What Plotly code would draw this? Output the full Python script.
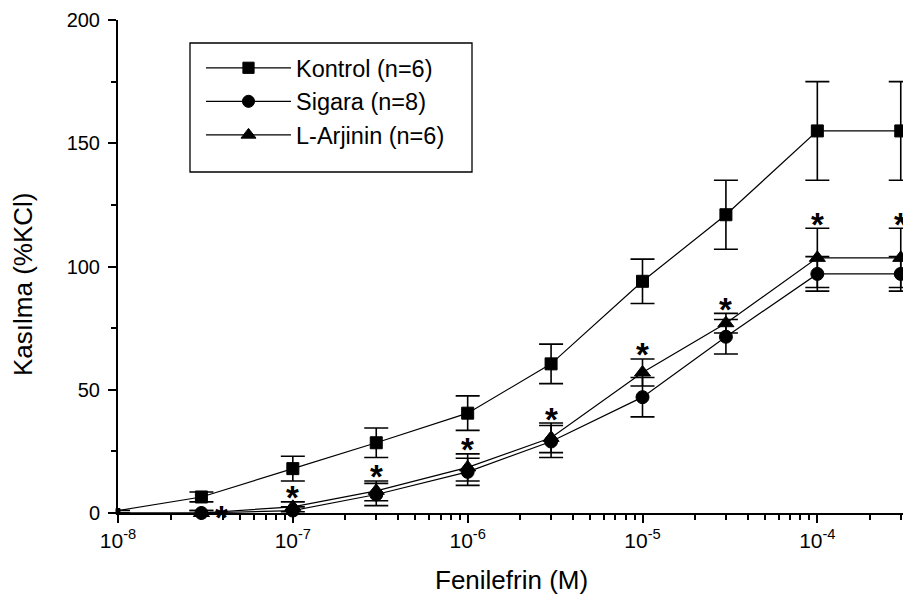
import math
import plotly.graph_objects as go

# ---- data ----
conc = [1e-8, 3e-8, 1e-7, 3e-7, 1e-6, 3e-6, 1e-5, 3e-5, 1e-4, 3e-4]
kontrol = [1, 6.5, 18, 28.5, 40.5, 60.5, 94, 121, 155, 155]
kontrol_err = [0, 2, 5, 6, 7, 8, 9, 14, 20, 20]
sigara = [0, 0, 1, 7.5, 16.7, 29, 47, 71.5, 97, 97]
sigara_err = [0, 1, 1.5, 4.5, 5.5, 6.5, 8, 7, 7, 7]
larjinin = [0, 0, 2.5, 9, 18.5, 30.5, 57, 77, 103.5, 103.5]
larjinin_err = [0, 1, 2, 4, 5.5, 6, 5.5, 4, 12, 12]
signif = [False, True, True, True, True, True, True, True, True, True]

series_names = ["Kontrol (n=6)", "Sigara (n=8)", "L-Arjinin (n=6)"]
y_ticks = [0, 50, 100, 150, 200]
x_tick_vals = [1e-8, 1e-7, 1e-6, 1e-5, 1e-4]
x_tick_text = ["10<sup>-8</sup>", "10<sup>-7</sup>", "10<sup>-6</sup>",
               "10<sup>-5</sup>", "10<sup>-4</sup>"]
x_minor_vals = [m * d for d in [1e-8, 1e-7, 1e-6, 1e-5, 1e-4]
                for m in range(2, 10) if m * d < 3.1e-4]
x_title = "Fenilefrin (M)"
y_title = "Kasılma (%KCl)"

FONT = "Liberation Sans, Arial, sans-serif"

# The page body has an 8px margin; the figure is sized so it ends at the window edge.
OFF = 8
FIG_W, FIG_H = 911 - OFF, 604 - OFF
# plot area in window pixels
L, R, T, B = 118, 903, 20, 513
def px(x):
    return (x - L) / (R - L)
def py(y):
    return (B - y) / (B - T)

fig = go.Figure()

def add_series(name, y, err, symbol, size):
    sizes = [4] + [size] * (len(y) - 1)
    fig.add_trace(go.Scatter(
        x=conc, y=y, name=name, mode="lines+markers",
        line=dict(color="black", width=1.2),
        marker=dict(symbol=symbol, size=sizes, color="black", opacity=1,
                    line=dict(color="black", width=1)),
        error_y=dict(type="data", array=err, visible=True,
                     color="black", thickness=1.6, width=12),
        cliponaxis=False,
    ))

add_series(series_names[0], kontrol, kontrol_err, "square", 12)
add_series(series_names[1], sigara, sigara_err, "circle", 13)
add_series(series_names[2], larjinin, larjinin_err, "triangle-up", 14)

annotations = []
for i, (c, v, e, s) in enumerate(zip(conc, larjinin, larjinin_err, signif)):
    if not s:
        continue
    if i == 1:
        annotations.append(dict(x=math.log10(c), y=v, xref="x", yref="y",
                                text="<b>*</b>", showarrow=False, xshift=20, yshift=-4,
                                font=dict(family=FONT, size=33, color="black")))
    else:
        annotations.append(dict(x=math.log10(c), y=v + e, xref="x", yref="y",
                                text="<b>*</b>", showarrow=False, yshift=4,
                                font=dict(family=FONT, size=33, color="black")))

# axis titles
annotations.append(dict(x=px(511), y=py(580), xref="paper", yref="paper",
                        text=x_title, showarrow=False, xanchor="center", yanchor="middle",
                        font=dict(family=FONT, size=26, color="black")))
annotations.append(dict(x=px(23), y=py(285), xref="paper", yref="paper",
                        text=y_title, showarrow=False, textangle=-90,
                        xanchor="center", yanchor="middle",
                        font=dict(family=FONT, size=26, color="black")))

shapes = [dict(type="rect", xref="paper", yref="paper",
               x0=px(190), x1=px(472), y0=py(172), y1=py(43),
               line=dict(color="black", width=1.3), fillcolor="white", layer="below")]

fig.update_layout(
    width=FIG_W, height=FIG_H,
    margin=dict(l=L - OFF, r=FIG_W - (R - OFF), t=T - OFF, b=FIG_H - (B - OFF)),
    paper_bgcolor="white", plot_bgcolor="rgba(0,0,0,0)",
    font=dict(family=FONT, color="black", size=20),
    showlegend=True,
    legend=dict(
        x=px(201), y=py(46), xanchor="left", yanchor="top",
        borderwidth=0, bgcolor="rgba(0,0,0,0)",
        font=dict(family=FONT, size=23.5, color="black"),
        itemwidth=85, tracegroupgap=0,
    ),
    annotations=annotations,
    shapes=shapes,
)

fig.update_xaxes(
    type="log", range=[-8, -3.51], automargin=False,
    showgrid=False, zeroline=False,
    showline=True, linecolor="black", linewidth=2,
    ticks="outside", ticklen=8, tickwidth=1.5, tickcolor="black",
    tickvals=x_tick_vals, ticktext=x_tick_text,
    tickfont=dict(family=FONT, size=21, color="black"),
    minor=dict(ticks="outside", ticklen=5, tickwidth=1.5, tickcolor="black",
               tickvals=x_minor_vals, showgrid=False),
)
fig.update_yaxes(
    range=[0, 200], automargin=False,
    showgrid=False, zeroline=False,
    showline=True, linecolor="black", linewidth=2,
    ticks="outside", ticklen=8, tickwidth=1.5, tickcolor="black",
    tickvals=y_ticks, ticklabelstandoff=4,
    tickfont=dict(family=FONT, size=20, color="black"),
    minor=dict(ticks="outside", ticklen=5, tickwidth=1.5, tickcolor="black",
               dtick=25, showgrid=False),
)

fig.write_html("out.html")
